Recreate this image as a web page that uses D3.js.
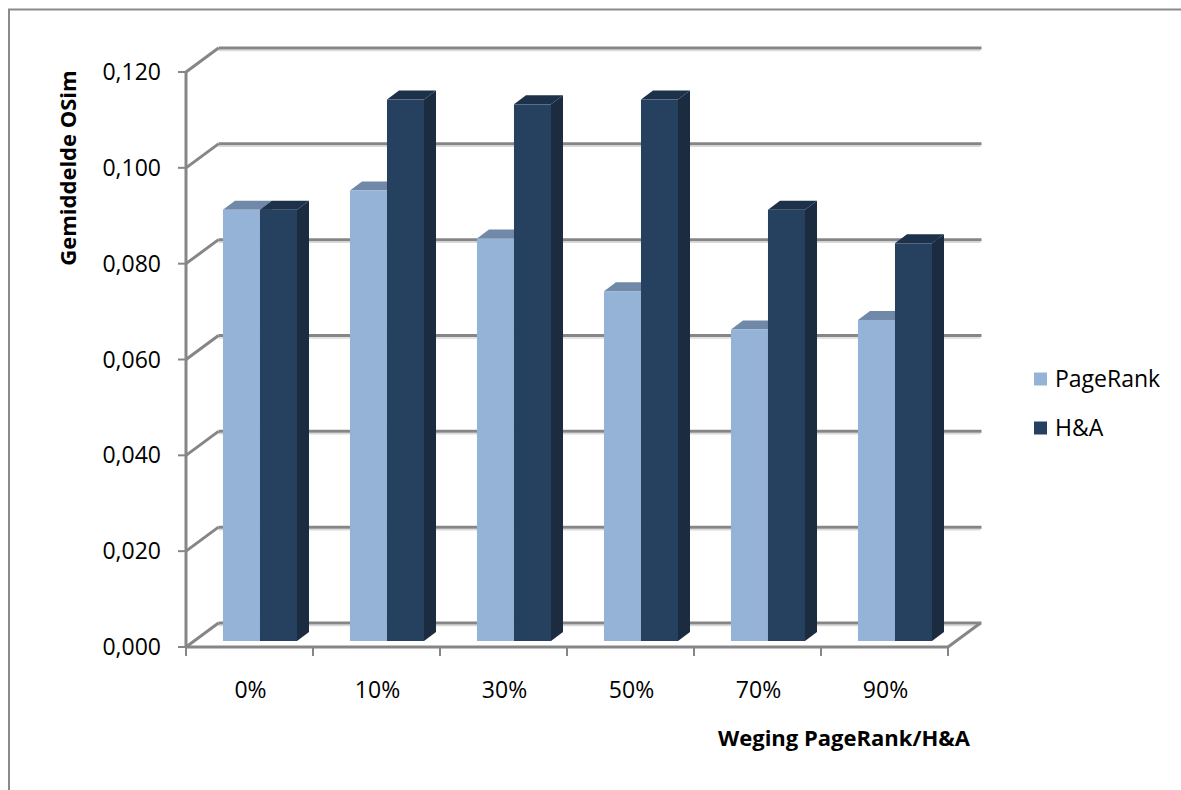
<!DOCTYPE html>
<html><head><meta charset="utf-8">
<script src="https://cdn.jsdelivr.net/npm/d3@7"></script>
<style>
html,body{margin:0;padding:0;background:#fff;}
svg{display:block;}
text{font-family:"Open Sans","Noto Sans",sans-serif;fill:#000;}
</style></head>
<body>
<svg id="chart" width="1181" height="790"></svg>
<script>
const categories = ["0%", "10%", "30%", "50%", "70%", "90%"];
const seriesNames = ["PageRank", "H&A"];
const pageRank = [0.090, 0.094, 0.084, 0.073, 0.065, 0.067];
const hA = [0.090, 0.113, 0.112, 0.113, 0.090, 0.083];
const yTicks = [0, 0.02, 0.04, 0.06, 0.08, 0.10, 0.12];
const yTitle = "Gemiddelde OSim";
const xTitle = "Weging PageRank/H&A";

const svg = d3.select("#chart");

// frame
svg.append("rect").attr("x", 9).attr("y", 9.5).attr("width", 1200).attr("height", 800)
  .attr("fill", "none").attr("stroke", "#8a8a8a").attr("stroke-width", 2);

const x0 = d3.scaleBand().domain(categories).range([186, 948]);
const x1 = d3.scaleBand().domain(seriesNames).range([x0.bandwidth() * 0.228, x0.bandwidth() * 0.811]);
const y = d3.scaleLinear().domain([0, 0.12]).range([647, 72]);
const nl = d3.formatLocale({decimal: ",", thousands: ".", grouping: [3], currency: ["€", ""]});
const fmt = nl.format(".3f");

// depth offsets
const DX = 32.5, DY = -24;          // full depth of the plot box
const bx0 = 8, by0 = -6;            // bar front plane
const bdx = 12, bdy = -9;           // bar depth

const gridColor = "#868686";
const g = svg.append("g");

// back wall gridlines + left wall diagonals (with light shadow)
yTicks.forEach(t => {
  const yy = y(t);
  g.append("line").attr("x1", 186 + DX).attr("x2", 948 + DX)
    .attr("y1", yy + DY + 2.5).attr("y2", yy + DY + 2.5)
    .attr("stroke", "#dadada").attr("stroke-width", 1.5);
  g.append("line").attr("x1", 186 + DX).attr("x2", 948 + DX + 1)
    .attr("y1", yy + DY).attr("y2", yy + DY)
    .attr("stroke", gridColor).attr("stroke-width", 3);
  g.append("line").attr("x1", 186).attr("y1", yy).attr("x2", 186 + DX).attr("y2", yy + DY)
    .attr("stroke", gridColor).attr("stroke-width", 3);
});

// floor right edge
g.append("line").attr("x1", 948).attr("y1", y(0)).attr("x2", 948 + DX).attr("y2", y(0) + DY)
  .attr("stroke", gridColor).attr("stroke-width", 3);

// bars
const colors = {
  "PageRank": {front: "#95b3d7", top: "#7189a8", side: "#6d86a3"},
  "H&A": {front: "#26405f", top: "#1e314b", side: "#1b2b40"}
};
const data = categories.map((c, i) => ({cat: c, vals: [
  {s: "PageRank", v: pageRank[i]}, {s: "H&A", v: hA[i]}
]}));

const bars = svg.append("g");
data.forEach(d => {
  d.vals.forEach(e => {
    const c = colors[e.s];
    const xl = x0(d.cat) + x1(e.s) + bx0;
    const w = x1.bandwidth();
    const yt = y(e.v) + by0;
    const yb = y(0) + by0;
    bars.append("path").attr("fill", c.side)
      .attr("d", `M${xl + w},${yt} L${xl + w + bdx},${yt + bdy} L${xl + w + bdx},${yb + bdy} L${xl + w},${yb} Z`);
    bars.append("path").attr("fill", c.top)
      .attr("d", `M${xl},${yt} L${xl + bdx},${yt + bdy} L${xl + w + bdx},${yt + bdy} L${xl + w},${yt} Z`);
    bars.append("rect").attr("x", xl).attr("y", yt).attr("width", w).attr("height", yb - yt)
      .attr("fill", c.front);
  });
});

// front axes
const ax = svg.append("g");
ax.append("line").attr("x1", 186).attr("x2", 186).attr("y1", y(0.12) - 1).attr("y2", y(0) + 1)
  .attr("stroke", gridColor).attr("stroke-width", 3);
ax.append("line").attr("x1", 185).attr("x2", 948).attr("y1", y(0)).attr("y2", y(0))
  .attr("stroke", gridColor).attr("stroke-width", 3);
yTicks.forEach(t => {
  ax.append("line").attr("x1", 178).attr("x2", 186).attr("y1", y(t)).attr("y2", y(t))
    .attr("stroke", gridColor).attr("stroke-width", 2);
  ax.append("text").attr("x", 161).attr("y", y(t)).attr("dy", "0.35em")
    .attr("text-anchor", "end").attr("font-size", 23).text(fmt(t));
});
const catEdges = categories.map(c => x0(c)).concat([x0.range()[1]]);
catEdges.forEach(xx => {
  ax.append("line").attr("x1", xx).attr("x2", xx).attr("y1", y(0)).attr("y2", y(0) + 9)
    .attr("stroke", gridColor).attr("stroke-width", 2);
});
categories.forEach(c => {
  ax.append("text").attr("x", x0(c) + x0.bandwidth() / 2 + 1).attr("y", 690).attr("dy", "0.35em")
    .attr("text-anchor", "middle").attr("font-size", 23).text(c);
});

// titles
svg.append("text").attr("transform", "translate(68,168) rotate(-90)")
  .attr("text-anchor", "middle").attr("dy", "0.35em")
  .attr("font-size", 22).attr("font-weight", "bold").text(yTitle);
svg.append("text").attr("x", 970).attr("y", 738).attr("dy", "0.35em")
  .attr("text-anchor", "end").attr("font-size", 22).attr("font-weight", "bold").text(xTitle);

// legend
const leg = svg.append("g");
seriesNames.forEach((s, i) => {
  const cy = 379 + i * 49;
  leg.append("rect").attr("x", 1034).attr("y", cy - 6.5).attr("width", 13).attr("height", 13)
    .attr("fill", colors[s].front);
  leg.append("text").attr("x", 1055).attr("y", cy).attr("dy", "0.35em")
    .attr("font-size", 23).text(s);
});
</script>
</body></html>
